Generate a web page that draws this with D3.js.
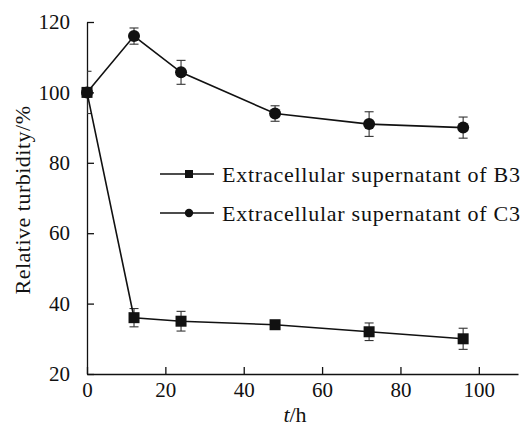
<!DOCTYPE html>
<html>
<head>
<meta charset="utf-8">
<script src="https://cdn.jsdelivr.net/npm/d3@7"></script>
<style>
  body { margin: 0; background: #fff; }
  svg text { font-family: "Liberation Serif", "Times New Roman", serif; fill: #111; }
</style>
</head>
<body>
<svg width="524" height="428"></svg>
<script>
const hours = [0, 12, 24, 48, 72, 96]
const b3Values = [100, 36, 35, 34, 32, 30]
const b3Errors = [0, 2.6, 2.8, 0.8, 2.5, 3]
const c3Values = [100, 116, 105.7, 94, 91, 90]
const c3Errors = [6, 2.3, 3.4, 2.2, 3.5, 3]
const xTicks = [0, 20, 40, 60, 80, 100]
const yTicks = [20, 40, 60, 80, 100, 120]
const seriesNames = ['Extracellular supernatant of B3', 'Extracellular supernatant of C3']

let svg = d3.select('svg')
let margin = { top: 22, right: 6, bottom: 54, left: 87 }
let width = +svg.attr('width') - margin.left - margin.right
let height = +svg.attr('height') - margin.top - margin.bottom

let g = svg.append('g')
  .attr('transform', 'translate(' + margin.left + ',' + margin.top + ')')

let x = d3.scaleLinear().domain([0, 110]).range([0, width])
let y = d3.scaleLinear().domain([20, 120]).range([height, 0])

// axes: ticks point inward
let xAxis = g.append('g')
  .attr('transform', 'translate(0,' + height + ')')
  .call(d3.axisBottom(x).tickValues(xTicks).tickSizeInner(-7).tickSizeOuter(0).tickPadding(12))
let yAxis = g.append('g')
  .call(d3.axisLeft(y).tickValues(yTicks).tickSizeInner(-7).tickSizeOuter(0).tickPadding(17))

;[xAxis, yAxis].forEach(function (a) {
  a.attr('font-family', null)
  a.select('.domain').attr('stroke', '#111').attr('stroke-width', 1.3)
  a.selectAll('.tick line').attr('stroke', '#111').attr('stroke-width', 1.3)
  a.selectAll('text').style('font-size', '21px').attr('fill', '#111')
})
xAxis.selectAll('text').attr('dy', '0.71em').attr('y', 8)

svg.append('defs').append('clipPath').attr('id', 'plot')
  .append('rect').attr('x', 0).attr('y', -10).attr('width', width).attr('height', height + 10)

let series = [
  { name: seriesNames[0], values: b3Values, errors: b3Errors, shape: 'square' },
  { name: seriesNames[1], values: c3Values, errors: c3Errors, shape: 'circle' }
]

let line = d3.line()
  .x(function (d) { return x(d.t) })
  .y(function (d) { return y(d.v) })

function drawMarker(sel, shape) {
  if (shape === 'square') {
    sel.append('rect').attr('x', -5.5).attr('y', -5.5).attr('width', 11).attr('height', 11)
      .attr('fill', '#111')
  } else {
    sel.append('circle').attr('r', 6).attr('fill', '#111')
  }
}

let plot = g.append('g').attr('clip-path', 'url(#plot)')

series.forEach(function (s) {
  let pts = hours.map(function (t, i) { return { t: t, v: s.values[i], e: s.errors[i] } })

  // error bars
  let eb = plot.append('g').selectAll('g').data(pts.filter(function (d) { return d.e > 0 }))
    .enter().append('g').attr('stroke', '#333').attr('stroke-width', 1.1)
  eb.append('line')
    .attr('x1', function (d) { return x(d.t) }).attr('x2', function (d) { return x(d.t) })
    .attr('y1', function (d) { return y(d.v + d.e) }).attr('y2', function (d) { return y(d.v - d.e) })
  eb.append('line')
    .attr('x1', function (d) { return x(d.t) - 4.5 }).attr('x2', function (d) { return x(d.t) + 4.5 })
    .attr('y1', function (d) { return y(d.v + d.e) }).attr('y2', function (d) { return y(d.v + d.e) })
  eb.append('line')
    .attr('x1', function (d) { return x(d.t) - 4.5 }).attr('x2', function (d) { return x(d.t) + 4.5 })
    .attr('y1', function (d) { return y(d.v - d.e) }).attr('y2', function (d) { return y(d.v - d.e) })

  g.append('path').datum(pts)
    .attr('fill', 'none').attr('stroke', '#111').attr('stroke-width', 1.6)
    .attr('d', line)

  g.append('g').selectAll('g').data(pts).enter().append('g')
    .attr('transform', function (d) { return 'translate(' + x(d.t) + ',' + y(d.v) + ')' })
    .each(function () { drawMarker(d3.select(this), s.shape) })
})

// legend
let legend = svg.append('g').attr('transform', 'translate(160,174)')
series.forEach(function (s, i) {
  let row = legend.append('g').attr('transform', 'translate(0,' + i * 39 + ')')
  row.append('line').attr('x1', 0).attr('x2', 54).attr('stroke', '#111').attr('stroke-width', 1.6)
  let m = row.append('g').attr('transform', 'translate(29,0)')
  if (s.shape === 'square') {
    m.append('rect').attr('x', -4).attr('y', -4).attr('width', 8).attr('height', 8).attr('fill', '#111')
  } else {
    m.append('circle').attr('r', 4.2).attr('fill', '#111')
  }
  row.append('text').attr('x', 62).attr('dy', '0.35em')
    .style('font-size', '22px').style('letter-spacing', '0.75px')
    .text(s.name)
})

// axis titles
svg.append('text')
  .attr('transform', 'translate(30,' + 200 + ') rotate(-90)')
  .attr('text-anchor', 'middle')
  .style('font-size', '22px').style('letter-spacing', '0.5px')
  .text('Relative turbidity/%')

let xt = svg.append('text')
  .attr('x', 295).attr('y', 422)
  .attr('text-anchor', 'middle')
  .style('font-size', '22px')
xt.append('tspan').style('font-style', 'italic').text('t')
xt.append('tspan').text('/h')
</script>
</body>
</html>
